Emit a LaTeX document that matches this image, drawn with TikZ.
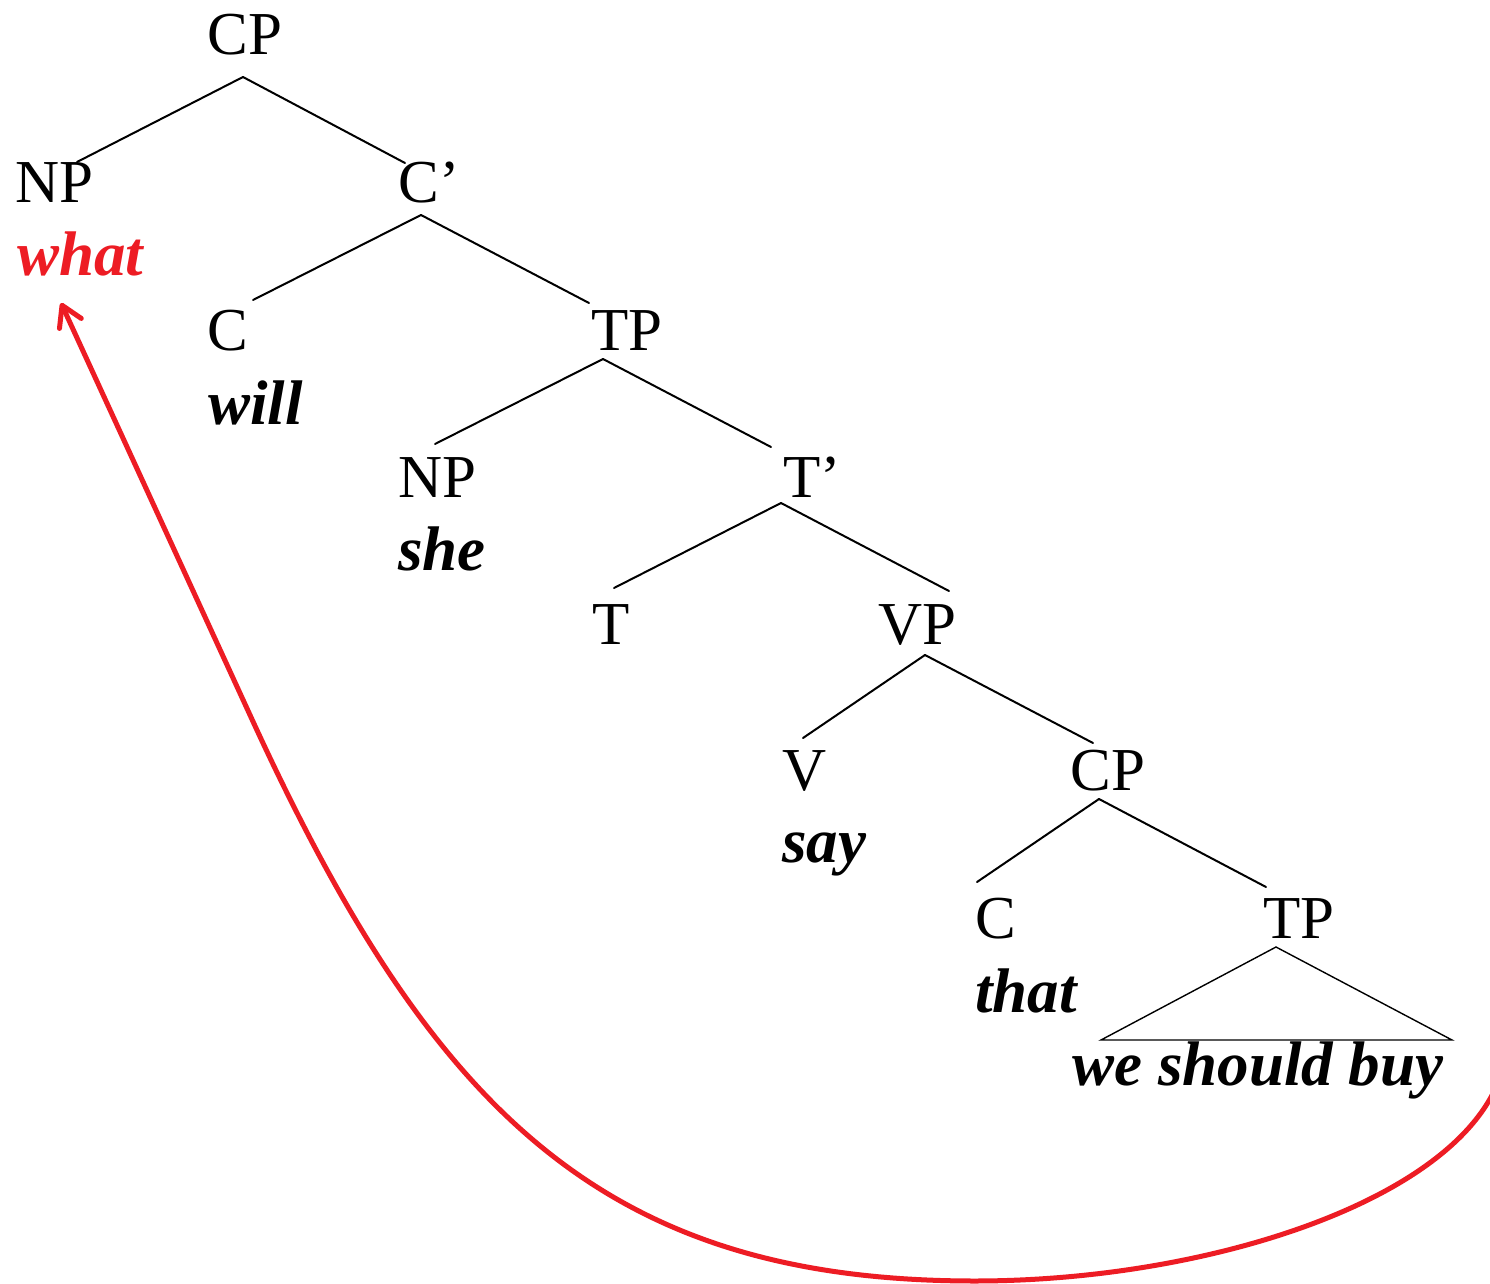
\documentclass[tikz,border=0pt]{standalone}
\usepackage{fontspec}
\setmainfont{Liberation Serif}
\usetikzlibrary{calc,arrows.meta}
\definecolor{movered}{RGB}{237,28,36}
\begin{document}
\begin{tikzpicture}[x=0.5pt,y=-0.5pt,
  cat/.style={inner sep=0pt,anchor=base west,font=\fontsize{30.5}{36}\selectfont},
  word/.style={inner sep=0pt,anchor=base west,font=\fontsize{31.5}{37}\selectfont\bfseries\itshape},
  branch/.style={line width=1pt,line cap=round},
  tri/.style={line width=0.7pt,line join=miter},
  move/.style={line width=2.5pt,color=movered,line cap=round,-{Straight Barb[length=10pt,width=12pt,line cap=round,line join=round]}}]
\clip (0,0) rectangle (1490,1284);
\fill[white] (0,0) rectangle (1490,1284);

% labels
\node[cat] (cp1) at (207,55) {CP};
\node[cat] (np1) at (15,203) {NP};
\node[word,text=movered] (what) at (17,276) {what};
\node[cat] (cb1) at (398,203) {C’};
\node[cat] (c1) at (207,350) {C};
\node[word] (will) at (208,424) {will};
\node[cat] (tp1) at (591,350) {TP};
\node[cat] (np2) at (398,497) {NP};
\node[word] (she) at (398,570) {she};
\node[cat] (tb) at (783,497) {T’};
\node[cat] (t) at (592,644) {T};
\node[cat] (vp) at (878,644) {VP};
\node[cat] (v) at (782,790) {V};
\node[word] (say) at (782,862) {say};
\node[cat] (cp2) at (1070,790) {CP};
\node[cat] (c2) at (975,938) {C};
\node[word] (that) at (975,1012) {that};
\node[cat] (tp2) at (1263,938) {TP};
\node[word] (wsb) at (1072,1085) {we should buy};

% branches
\draw[branch] ($(cp1.base west)+(36,22)$) -- ($(np1.base west)+(62,-41)$);
\draw[branch] ($(cp1.base west)+(36,22)$) -- ($(cb1.base west)+(7,-40)$);
\draw[branch] ($(cb1.base west)+(23,12)$) -- ($(c1.base west)+(46,-50)$);
\draw[branch] ($(cb1.base west)+(23,12)$) -- ($(tp1.base west)+(-2,-47)$);
\draw[branch] ($(tp1.base west)+(12,9)$) -- ($(np2.base west)+(37,-53)$);
\draw[branch] ($(tp1.base west)+(12,9)$) -- ($(tb.base west)+(-12,-50)$);
\draw[branch] ($(tb.base west)+(-2,6)$) -- ($(t.base west)+(22,-56)$);
\draw[branch] ($(tb.base west)+(-2,6)$) -- ($(vp.base west)+(71,-53)$);
\draw[branch] ($(vp.base west)+(47,11)$) -- ($(v.base west)+(21,-52)$);
\draw[branch] ($(vp.base west)+(47,11)$) -- ($(cp2.base west)+(23,-47)$);
\draw[branch] ($(cp2.base west)+(29,9)$) -- ($(c2.base west)+(2,-56)$);
\draw[branch] ($(cp2.base west)+(29,9)$) -- ($(tp2.base west)+(3,-51)$);
\draw[tri] ($(tp2.base west)+(13,9)$) -- ($(wsb.base west)+(29,-45)$) -- ($(wsb.base west)+(380,-45)$) -- cycle;

% movement arrow
\coordinate (src) at (1497,1085);
\draw[move] (src) .. controls (1445,1205) and (1200,1281) .. (975,1281)
  .. controls (603,1281) and (431,1111) .. (250,715)
  -- ($(what.base west)+(44,27)$);
\end{tikzpicture}
\end{document}
